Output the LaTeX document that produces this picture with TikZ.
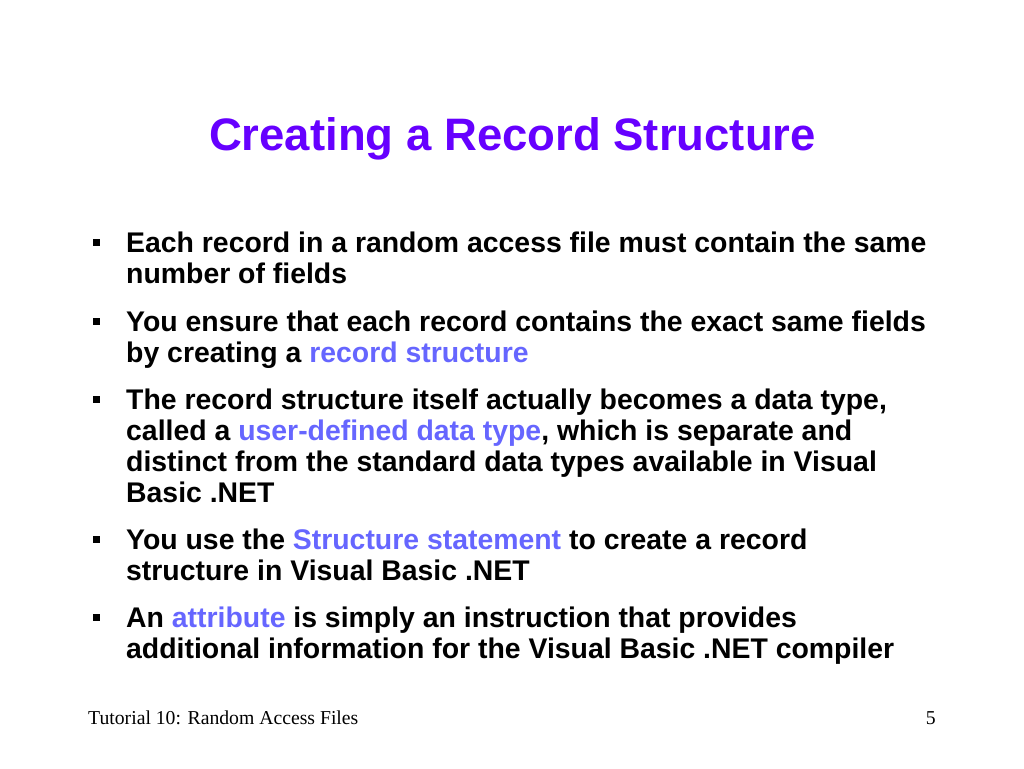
\documentclass[tikz,border=0pt]{standalone}
\usepackage{fontspec}
\setmainfont{Liberation Sans}
\newfontfamily\footfont{Liberation Serif}
\definecolor{titlepurple}{HTML}{6600FF}
\definecolor{keyblue}{HTML}{6666FF}
\newcommand{\key}[1]{\textcolor{keyblue}{#1}}

\begin{document}
\begin{tikzpicture}[x=1pt,y=-1pt,
    title/.style={font=\fontsize{45.5}{50}\selectfont\bfseries, text=titlepurple, inner sep=0pt},
    item/.style={anchor=base west, align=left, inner sep=0pt,
                 font=\fontsize{28.4}{31}\selectfont\bfseries},
    sq/.style={fill=black, inner sep=0pt, minimum size=7pt},
    foot/.style={font=\footfont\fontsize{19.7}{22}\selectfont, inner sep=0pt}]
    \useasboundingbox (0,0) rectangle (1024,768);
    \node[title, anchor=base] (title) at (512.5,150) {Creating a Record Structure};
    % bullets (items are placed by the baseline of their last line)
    \node[sq] (b1) at (96.5,242) {};
    \node[item] (t1) at (126,283) {Each record in a random access file must contain the same\\
      number of fields};
    \node[sq] (b2) at (96.5,321) {};
    \node[item] (t2) at (126,362) {You ensure that each record contains the exact same fields\\
      by creating a \key{record structure}};
    \node[sq] (b3) at (96.5,399) {};
    \node[item] (t3) at (126,502) {The record structure itself actually becomes a data type,\\
      called a \key{user-defined data type}, which is separate and\\
      distinct from the standard data types available in Visual\\
      Basic .NET};
    \node[sq] (b4) at (96.5,539) {};
    \node[item] (t4) at (126,580) {You use the \key{Structure statement} to create a record\\
      structure in Visual Basic .NET};
    \node[sq] (b5) at (96.5,617) {};
    \node[item] (t5) at (126,658) {An \key{attribute} is simply an instruction that provides\\
      additional information for the Visual Basic .NET compiler};
    % footer
    \node[foot, anchor=base west] (ftitle) at (88,724) {Tutorial 10: Random Access Files};
    \node[foot, anchor=base east] (fpage) at (936,724) {5};
\end{tikzpicture}
\end{document}
